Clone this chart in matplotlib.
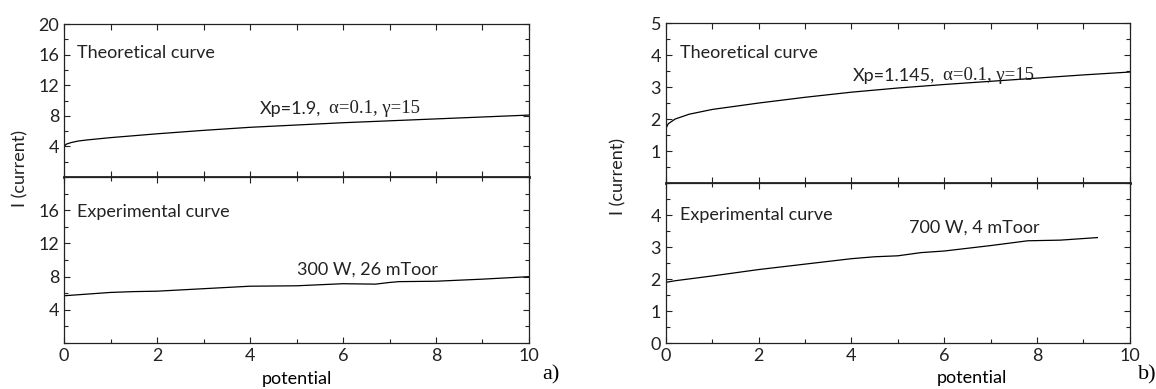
import matplotlib
matplotlib.use("Agg")
import matplotlib.pyplot as plt
from matplotlib.ticker import MultipleLocator, FixedLocator

plt.rcParams["font.family"] = ["Lato", "DejaVu Sans"]

# -----------------------------------------------------------------------------
# panel a) theoretical curve
a_theo_x = [0, 0.05, 0.15, 0.3, 0.5, 1, 2, 3, 4, 5, 6, 7, 8, 9, 10]
a_theo_y = [4.0, 4.3, 4.5, 4.7, 4.85, 5.15, 5.65, 6.1, 6.5, 6.8, 7.1, 7.35, 7.6, 7.85, 8.1]
# panel a) experimental curve
a_exp_x = [0, 0.5, 1, 1.5, 2, 3, 4, 5, 6, 6.7, 7.0, 7.2, 8, 9, 10]
a_exp_y = [5.7, 5.9, 6.1, 6.2, 6.25, 6.55, 6.85, 6.9, 7.15, 7.1, 7.3, 7.4, 7.45, 7.7, 8.0]

# panel b) theoretical curve
b_theo_x = [0, 0.05, 0.2, 0.5, 1, 2, 3, 4, 5, 6, 7, 8, 9, 10]
b_theo_y = [1.7, 1.85, 2.0, 2.15, 2.3, 2.5, 2.68, 2.84, 2.97, 3.08, 3.18, 3.28, 3.38, 3.47]
# panel b) experimental curve
b_exp_x = [0, 0.2, 1, 2, 3, 4, 4.5, 5, 5.5, 6, 7, 7.8, 8.5, 9.3]
b_exp_y = [1.9, 1.95, 2.1, 2.3, 2.47, 2.64, 2.7, 2.73, 2.83, 2.88, 3.05, 3.2, 3.22, 3.3]

a_top_ticks = [4, 8, 12, 16, 20]
a_bot_ticks = [4, 8, 12, 16]
b_top_ticks = [1, 2, 3, 4, 5]
b_bot_ticks = [0, 1, 2, 3, 4]

a_xp = "Xp=1.9,"
b_xp = "Xp=1.145,"
greek_part = "\u03b1=0.1, \u03b3=15"
a_label_exp = "300 W, 26 mToor"
b_label_exp = "700 W, 4 mToor"
# -----------------------------------------------------------------------------

FS = 13
INK = "#222222"


def style_axis(ax, ymax, ytick_list, yminor):
    ax.set_xlim(0, 10)
    ax.set_ylim(0, ymax)
    ax.xaxis.set_major_locator(MultipleLocator(2))
    ax.xaxis.set_minor_locator(MultipleLocator(1))
    ax.yaxis.set_major_locator(FixedLocator(ytick_list))
    ax.yaxis.set_minor_locator(MultipleLocator(yminor))
    ax.tick_params(which="both", direction="in", top=True, right=True,
                   labelsize=FS, colors=INK, width=0.8)
    ax.tick_params(which="major", length=4)
    ax.tick_params(which="minor", length=3)
    for s in ax.spines.values():
        s.set_linewidth(0.9)
        s.set_color(INK)


def param_label(ax, x, y, xp_text):
    t = ax.text(x, y, xp_text, fontsize=FS, va="baseline", color=INK)
    ax.annotate(greek_part, xy=(1, 0), xycoords=t, xytext=(6, 0),
                textcoords="offset points", va="bottom", fontsize=FS + 0.5,
                family="Liberation Serif", color=INK)


fig = plt.figure(figsize=(11.56, 3.89), dpi=100)

# left panel a)
ax_a1 = fig.add_axes([0.0554, 0.545, 0.4022, 0.393])
ax_a2 = fig.add_axes([0.0554, 0.118, 0.4022, 0.427])
# right panel b)
ax_b1 = fig.add_axes([0.576, 0.5296, 0.4014, 0.411])
ax_b2 = fig.add_axes([0.576, 0.118, 0.4014, 0.411])

style_axis(ax_a1, 20, a_top_ticks, 2)
style_axis(ax_a2, 20, a_bot_ticks, 2)
style_axis(ax_b1, 5, b_top_ticks, 0.5)
style_axis(ax_b2, 5, b_bot_ticks, 0.5)

for ax in (ax_a1, ax_b1):
    ax.tick_params(labelbottom=False)
    ax.xaxis.set_major_locator(MultipleLocator(1))
    ax.spines["bottom"].set_linewidth(2.0)

ax_a1.plot(a_theo_x, a_theo_y, color="black", lw=0.9)
ax_a2.plot(a_exp_x, a_exp_y, color="black", lw=0.9)
ax_b1.plot(b_theo_x, b_theo_y, color="black", lw=0.9)
ax_b2.plot(b_exp_x, b_exp_y, color="black", lw=0.9)

ax_a1.text(0.28, 16.2, "Theoretical curve", fontsize=FS, va="center", color=INK)
ax_a2.text(0.28, 15.8, "Experimental curve", fontsize=FS, va="center", color=INK)
ax_b1.text(0.3, 4.05, "Theoretical curve", fontsize=FS, va="center", color=INK)
ax_b2.text(0.3, 4.0, "Experimental curve", fontsize=FS, va="center", color=INK)

param_label(ax_a1, 4.2, 8.3, a_xp)
param_label(ax_b1, 4.03, 3.2, b_xp)
ax_a2.text(5.0, 8.9, a_label_exp, fontsize=FS, va="center", color=INK)
ax_b2.text(5.25, 3.6, b_label_exp, fontsize=FS, va="center", color=INK)

ax_a2.set_xlabel("potential", fontsize=FS)
ax_b2.set_xlabel("potential", fontsize=FS)
ax_a2.xaxis.set_label_coords(0.5, -0.17)
ax_b2.xaxis.set_label_coords(0.66, -0.17)

fig.text(0.0175, 0.567, "I (current)", rotation=90, fontsize=FS, va="center", ha="center", color=INK)
fig.text(0.535, 0.545, "I (current)", rotation=90, fontsize=FS, va="center", ha="center", color=INK)

fig.text(0.469, 0.025, "a)", fontsize=16, family="Liberation Serif")
fig.text(0.984, 0.025, "b)", fontsize=16, family="Liberation Serif")

fig.savefig("out.png", dpi=100)
